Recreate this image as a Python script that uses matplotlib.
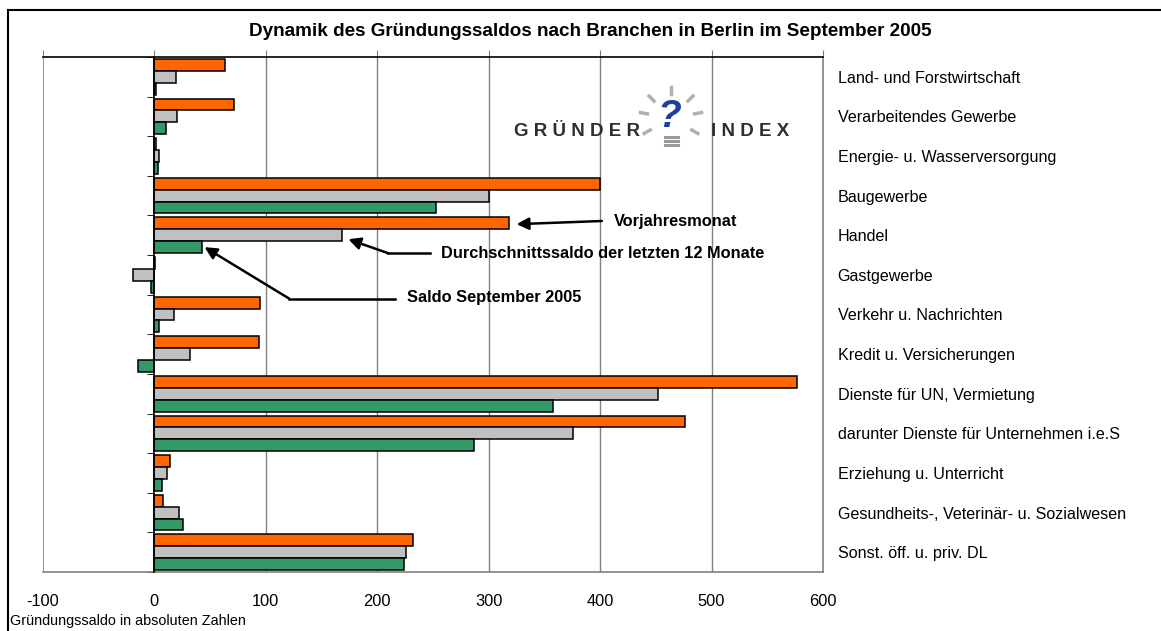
import numpy as np
import matplotlib
matplotlib.use("Agg")
import matplotlib.pyplot as plt
from matplotlib.lines import Line2D

plt.rcParams['font.family'] = ['Liberation Sans', 'DejaVu Sans']

# Branchen (von oben nach unten)
branchen = [
    "Land- und Forstwirtschaft",
    "Verarbeitendes Gewerbe",
    "Energie- u. Wasserversorgung",
    "Baugewerbe",
    "Handel",
    "Gastgewerbe",
    "Verkehr u. Nachrichten",
    "Kredit u. Versicherungen",
    "Dienste für UN, Vermietung",
    "darunter Dienste für Unternehmen i.e.S",
    "Erziehung u. Unterricht",
    "Gesundheits-, Veterinär- u. Sozialwesen",
    "Sonst. öff. u. priv. DL",
]

# Werte
vorjahr = [63, 71, 1, 400, 318, 0.5, 95, 94, 577, 476, 14, 8, 232]
durchschnitt = [19, 20, 4.5, 300, 168, -19.5, 18, 31.5, 452, 376, 11.5, 22, 226]
saldo_sep = [1.5, 10, 3, 253, 43, -3.5, 4, -14.5, 358, 287, 7, 25.5, 224]

x_ticks = [-100, 0, 100, 200, 300, 400, 500, 600]

W, H = 1161, 631
fig = plt.figure(figsize=(W / 100, H / 100), dpi=100)


def fx(px):
    return px / W


def fy(py):
    return 1 - py / H


ax = fig.add_axes([fx(43), fy(572), fx(823) - fx(43), fy(57) - fy(572)])

y = np.arange(len(branchen))
h = 0.3
ax.barh(y - 0.3, vorjahr, height=h, color="#FF6600", edgecolor="black", linewidth=1.1, zorder=3)
ax.barh(y, durchschnitt, height=h, color="#C0C0C0", edgecolor="black", linewidth=1.1, zorder=3)
ax.barh(y + 0.3, saldo_sep, height=h, color="#339966", edgecolor="black", linewidth=1.1, zorder=3)

ax.set_xlim(-100, 600)
ax.set_ylim(len(branchen) - 0.5, -0.5)

# Gitterlinien
for v in x_ticks[2:-1]:
    ax.axvline(v, color="#808080", linewidth=1, zorder=1)
ax.axvline(-100, color="#808080", linewidth=1.2, zorder=1)

# Achsen / Rahmen
ax.spines['left'].set_position(('data', 0))
ax.spines['left'].set_color("black")
ax.spines['left'].set_zorder(4)
ax.spines['top'].set_color("black")
ax.spines['right'].set_color("#808080")
ax.spines['bottom'].set_color("#808080")
for s in ax.spines.values():
    s.set_linewidth(1.2)

ax.set_xticks(x_ticks)
ax.set_xticklabels([str(v) for v in x_ticks])
ax.tick_params(axis='x', top=True, bottom=False, labeltop=False, labelbottom=True,
               direction='out', length=5, color="#808080", pad=11, labelsize=11.8)

ax.set_yticks(y)
ax.set_yticklabels(branchen)
ax.set_yticks(np.arange(len(branchen) + 1) - 0.5, minor=True)
ax.tick_params(axis='y', which='major', left=False, right=False, labelleft=False,
               labelright=True, pad=7, labelsize=11.6)
ax.tick_params(axis='y', which='minor', left=True, right=False, direction='out',
               length=5, color="black")

# Anmerkungen mit Pfeilen
arrow = dict(arrowstyle='-|>', color='black', lw=1.8, mutation_scale=18, shrinkA=0, shrinkB=0)
ax.annotate("", xy=(vorjahr[4] + 7, 3.72), xytext=(401.5, 3.64), arrowprops=arrow, zorder=5)
ax.text(412.5, 3.64, "Vorjahresmonat", fontsize=11.8, fontweight='bold', va='center', ha='left')

ax.plot([247, 209.5], [4.45, 4.45], color='black', lw=1.8, zorder=5)
ax.annotate("", xy=(durchschnitt[4] + 6, 4.1), xytext=(209.5, 4.45), arrowprops=arrow, zorder=5)
ax.text(257, 4.45, "Durchschnittssaldo der letzten 12 Monate", fontsize=11.8,
        fontweight='bold', va='center', ha='left')

ax.plot([216, 121], [5.6, 5.6], color='black', lw=1.8, zorder=5)
ax.annotate("", xy=(saldo_sep[4] + 2, 4.3), xytext=(121, 5.6), arrowprops=arrow, zorder=5)
ax.text(226.5, 5.56, "Saldo September 2005", fontsize=11.8, fontweight='bold',
        va='center', ha='left')

# Titel und Achsentitel
fig.text(fx(590), fy(32), "Dynamik des Gründungssaldos nach Branchen in Berlin im September 2005",
         ha='center', va='center', fontsize=13.6, fontweight='bold')
fig.text(fx(10), fy(621), "Gründungssaldo in absoluten Zahlen", ha='left', va='center', fontsize=10.4)

# Logo
fig.text(fx(577), fy(131), "G R Ü N D E R", ha='center', va='center', fontsize=13.5,
         fontweight='bold', color="#2e2e2e")
fig.text(fx(750), fy(131), "I N D E X", ha='center', va='center', fontsize=13.5,
         fontweight='bold', color="#2e2e2e")
fig.text(fx(669), fy(117), "?", ha='center', va='center', fontsize=28, fontweight='bold',
         style='italic', color="#1f3f9f")
cx, cy = 671, 118
for ang in [90, 135, 45, 170, 10, 210, 330]:
    a = np.deg2rad(ang)
    r1, r2 = 24, 31
    fig.add_artist(Line2D([fx(cx + r1 * np.cos(a)), fx(cx + r2 * np.cos(a))],
                          [fy(cy - r1 * np.sin(a)), fy(cy - r2 * np.sin(a))],
                          color="#b0b0b0", lw=2.5))
for k in range(3):
    fig.add_artist(Line2D([fx(665), fx(678)], [fy(137 + 4 * k), fy(137 + 4 * k)],
                          color="#9a9a9a", lw=2.2))

# Rahmen um die Grafik
fig.add_artist(Line2D([fx(8), fx(8)], [fy(10), 0], color='black', lw=1.5))
fig.add_artist(Line2D([fx(8), 1], [fy(10), fy(10)], color='black', lw=1.5))

fig.savefig("out.png", dpi=100)
